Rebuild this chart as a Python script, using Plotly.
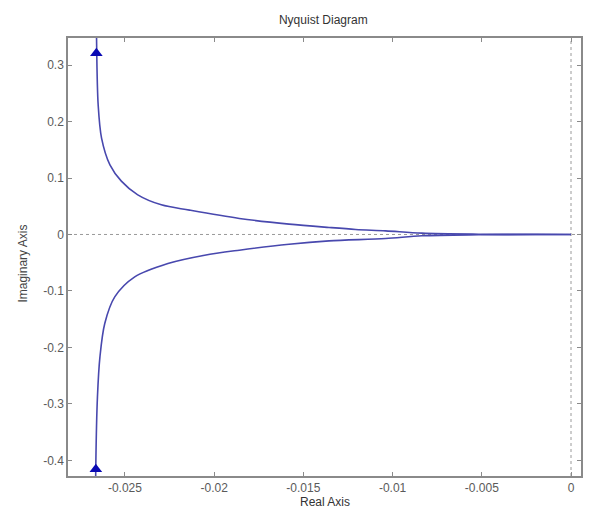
import plotly.graph_objects as go

# Nyquist locus, positive-frequency branch (rises from -j inf toward the origin)
re_lower = [-0.02665, -0.02663, -0.02654, -0.02640, -0.02613, -0.02557, -0.02445,
            -0.02259, -0.02053, -0.01859, -0.01580, -0.01356, -0.01039, -0.00836,
            -0.00518, -0.00200, 0.0]
im_lower = [-0.520, -0.405, -0.2878, -0.2169, -0.1577, -0.1106, -0.0751,
            -0.0514, -0.0367, -0.0278, -0.0172, -0.0113, -0.0071, -0.0023,
            -0.0005, -0.0001, 0.0]

# Negative-frequency branch (leaves the origin toward +j inf)
re_upper = [0.0, -0.00200, -0.00518, -0.00836, -0.01039, -0.01207, -0.01356,
            -0.01580, -0.01859, -0.02138, -0.02296, -0.02428, -0.02520,
            -0.02584, -0.02631, -0.02650, -0.02659, -0.02662]
im_upper = [0.0, 0.0001, 0.0005, 0.0023, 0.0064, 0.0089, 0.0124,
            0.0184, 0.0284, 0.0431, 0.0525, 0.0702, 0.0945,
            0.1233, 0.1707, 0.2297, 0.3480, 0.520]

# Direction arrows
arrow_re = [-0.02660, -0.02663]
arrow_im = [0.321, -0.416]

x_ticks = [-0.025, -0.02, -0.015, -0.01, -0.005, 0]
x_tick_text = ["-0.025", "-0.02", "-0.015", "-0.01", "-0.005", "0"]
y_ticks = [-0.4, -0.3, -0.2, -0.1, 0, 0.1, 0.2, 0.3]
y_tick_text = ["-0.4", "-0.3", "-0.2", "-0.1", "0", "0.1", "0.2", "0.3"]

line_color = "#4848ae"
arrow_color = "#0a0ab4"
axis_grey = "#8a8a8a"
text_grey = "#5a5a5a"
font_family = "Liberation Sans, Arial, sans-serif"

fig = go.Figure()
for xs, ys in ((re_lower, im_lower), (re_upper, im_upper)):
    fig.add_trace(go.Scatter(x=xs, y=ys, mode="lines",
                             line=dict(color=line_color, width=1.6,
                                       shape="spline", smoothing=0.9),
                             hoverinfo="skip", showlegend=False))
fig.add_trace(go.Scatter(x=arrow_re, y=arrow_im, mode="markers",
                         marker=dict(symbol="triangle-up", size=11, color=arrow_color,
                                     line=dict(width=0)),
                         hoverinfo="skip", showlegend=False))

# Dotted reference lines through the origin
fig.add_shape(type="line", xref="paper", yref="y", x0=0, x1=1, y0=0, y1=0,
              line=dict(color="#9a9a9a", width=1, dash="dot"), layer="below")
fig.add_shape(type="line", xref="x", yref="paper", x0=0, x1=0, y0=0, y1=1,
              line=dict(color="#9a9a9a", width=1, dash="dot"), layer="below")

axis_common = dict(showgrid=False, zeroline=False, showline=True, linecolor=axis_grey,
                   linewidth=1.5, mirror="allticks", ticks="inside", ticklen=4,
                   tickcolor=axis_grey, tickwidth=1,
                   tickfont=dict(family=font_family, size=12, color=text_grey))

fig.update_xaxes(range=[-0.02819, 0.00056], tickvals=x_ticks, ticktext=x_tick_text,
                 **axis_common)
fig.update_yaxes(range=[-0.4278, 0.348], tickvals=y_ticks, ticktext=y_tick_text,
                 **axis_common)

fig.update_layout(
    width=590, height=512,
    margin=dict(l=68, r=7, t=38, b=36),
    paper_bgcolor="white", plot_bgcolor="white",
    font=dict(family=font_family, size=12, color=text_grey),
    title=dict(text="Nyquist Diagram", x=0.548, xanchor="center", y=0.961,
               yanchor="middle", font=dict(family=font_family, size=12, color="#333333")),
    annotations=[
        dict(text="Real Axis", xref="paper", yref="paper", x=0.5, y=0, yshift=-35,
             xanchor="center", yanchor="bottom", showarrow=False,
             font=dict(family=font_family, size=12, color="#333333")),
        dict(text="Imaginary Axis", xref="paper", yref="paper", x=0, y=0.485, xshift=-45,
             xanchor="center", yanchor="middle", textangle=-90, showarrow=False,
             font=dict(family=font_family, size=12, color="#444444")),
    ],
)

fig.write_html("out.html")
